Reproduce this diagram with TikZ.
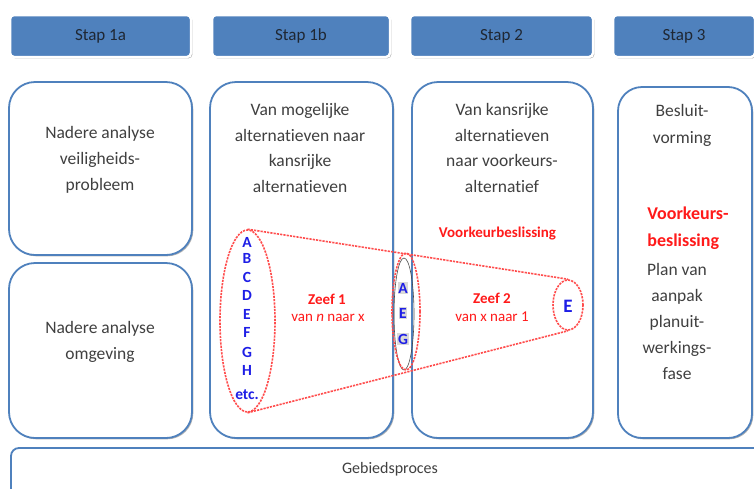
\documentclass[tikz,border=0pt]{standalone}
\usepackage{fontspec}
\setmainfont{Carlito}[Ligatures=NoCommon]
\usetikzlibrary{shapes.geometric,shadows}
\definecolor{officeblue}{HTML}{4F81BD}
\definecolor{boxtext}{HTML}{404040}
\definecolor{hdrtext}{HTML}{1F2733}
\definecolor{alertred}{HTML}{FF1A1A}
\definecolor{conered}{HTML}{FF4D4D}
\definecolor{lettblue}{HTML}{1E1EE6}
\newcommand{\fsz}[2]{\fontsize{#1}{#2}\selectfont}
\begin{document}
\begin{tikzpicture}[x=1pt,y=-1pt,
  hdr/.style={fill=officeblue, draw=white, line width=2.5pt, rounded corners=4pt,
    drop shadow={shadow xshift=1.4pt,shadow yshift=-1.4pt,opacity=.65},
    text=hdrtext, font=\fsz{17}{20}, minimum height=42pt, inner sep=0pt},
  mainbox/.style={fill=white, draw=officeblue, line width=1.8pt, rounded corners=26pt,
    drop shadow={shadow xshift=1.3pt,shadow yshift=-1.3pt,opacity=.6}, inner sep=0pt},
  boxtxt/.style={text=boxtext, font=\fsz{17.5}{25.7}, align=center, inner sep=0pt},
  redtxt/.style={text=alertred, font=\bfseries\fsz{15}{18}, inner sep=0pt},
  lett/.style={text=lettblue, font=\bfseries\fsz{15.5}{16}, inner sep=0pt},
  cone/.style={draw=conered, line width=1.6pt, dash pattern=on 2.2pt off 1.1pt},
]
\useasboundingbox (0,0) rectangle (754,488);
\clip (0,0) rectangle (754,488);

% step headers
\node[hdr, minimum width=181pt] (h1a) at (100.5,36) {Stap 1a};
\node[hdr, minimum width=178pt] (h1b) at (301,36) {Stap 1b};
\node[hdr, minimum width=183pt] (h2)  at (501.5,36) {Stap 2};
\node[hdr, minimum width=142pt] (h3)  at (684,36) {Stap 3};

% main columns
\node[mainbox, minimum width=183pt, minimum height=173pt] (b1a) at (100.5,168.5) {};
\node[mainbox, minimum width=183pt, minimum height=175pt] (b1c) at (100.5,350.5) {};
\node[mainbox, minimum width=183pt, minimum height=356pt] (b1b) at (301.5,260) {};
\node[mainbox, minimum width=181pt, minimum height=356pt] (b2)  at (502.5,260) {};
\node[mainbox, minimum width=134pt, minimum height=351pt, rounded corners=24pt] (b3) at (685,262.5) {};
\node[mainbox, minimum width=759pt, minimum height=52pt, rounded corners=8pt] (geb) at (390.5,474) {};

% column texts
\node[boxtxt, font=\fsz{17.5}{26}] (t1a) at (100,160) {Nadere analyse\\veiligheids-\\probleem};
\node[boxtxt, font=\fsz{17.5}{26}] (t1c) at (100,342) {Nadere analyse\\omgeving};
\node[boxtxt] (t1b) at (300,148) {Van mogelijke\\alternatieven naar\\kansrijke\\alternatieven};
\node[boxtxt] (t2)  at (502,148) {Van kansrijke\\alternatieven\\naar voorkeurs-\\alternatief};
\node[redtxt] (vb) at (497.5,234) {Voorkeurbeslissing};
\node[boxtxt, font=\fsz{17.5}{27}] (t3a) at (682,125.5) {Besluit-\\vorming};
\node[redtxt, font=\bfseries\fsz{18}{27}, align=left] (t3b) at (688,228.5) {Voorkeurs-\\beslissing};
\node[boxtxt, font=\fsz{17.5}{25.8}] (t3c) at (677,321.5) {Plan van\\aanpak\\planuit-\\werkings-\\fase};
\node[text=boxtext, font=\fsz{16}{18}, inner sep=0pt] (tgeb) at (390,469) {Gebiedsproces};

% funnel: ellipses of alternatives
\node[ellipse, cone, minimum width=55pt, minimum height=182pt, inner sep=0pt] (c1) at (247.5,321) {};
\node[ellipse, draw=black!70, line width=0.6pt, minimum width=20pt, minimum height=112pt, inner sep=0pt] (c2g) at (404,314) {};
\node[ellipse, cone, minimum width=28pt, minimum height=117pt, inner sep=0pt] (c2) at (406,311.5) {};
\node[ellipse, cone, minimum width=30pt, minimum height=50pt, inner sep=0pt] (c3) at (568,305) {};
\draw[cone] (c1.north) -- (c3.north);
\draw[cone] (c1.south) -- (c3.south);

\foreach \t/\yy [count=\i] in {A/242,B/258,C/277,D/295,E/314,F/332,G/352,H/370,etc./395}
  \node[lett] (l\i) at (247,\yy) {\t};
\foreach \t/\yy [count=\i] in {A/288,E/313,G/339}
  \node[lett, fill=black!15, inner sep=0.6pt] (m\i) at (403,\yy) {\t};
\node[lett, font=\bfseries\fsz{19}{20}] (eE) at (568,306) {E};

% sieve labels
\node[redtxt] (z1) at (327,299) {Zeef 1};
\node[text=alertred, font=\fsz{15}{18}, inner sep=0pt] (z1b) at (328,318) {van \textit{n} naar x};
\node[redtxt] (z2) at (492,298) {Zeef 2};
\node[text=alertred, font=\fsz{15}{18}, inner sep=0pt] (z2b) at (492,317) {van x naar 1};
\end{tikzpicture}
\end{document}
